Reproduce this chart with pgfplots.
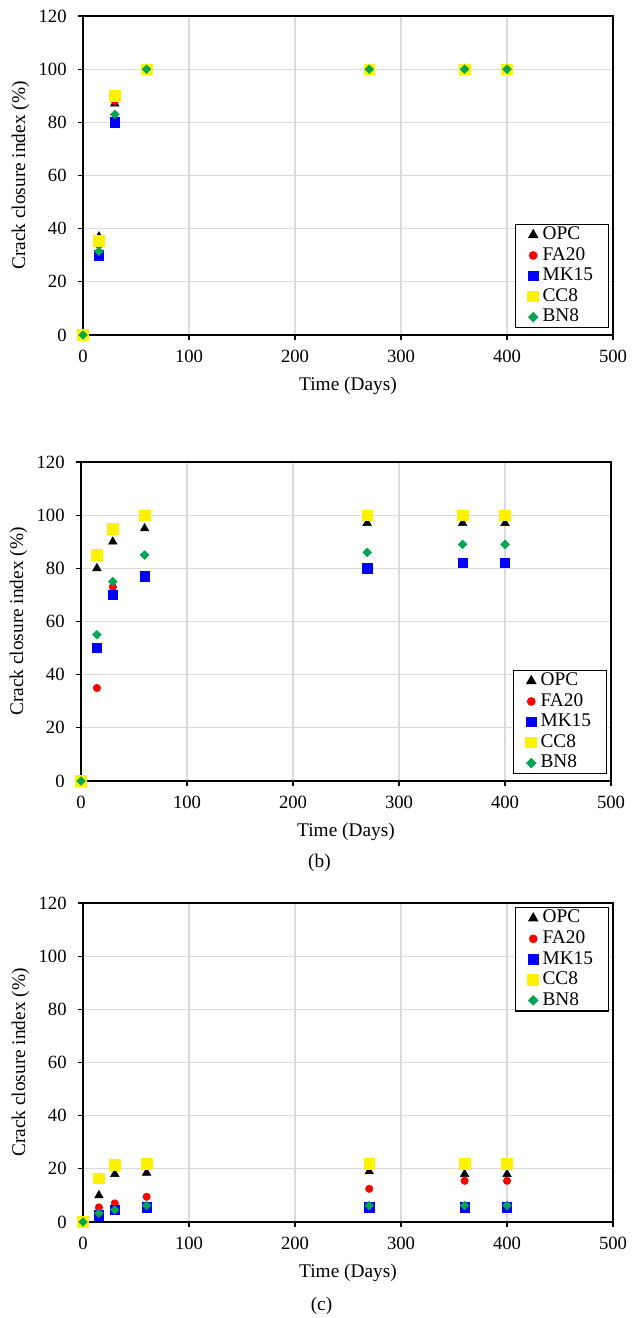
\documentclass[border=0pt]{standalone}
\usepackage{fontspec}
\setmainfont{Liberation Serif}
\usepackage{pgfplots}
\pgfplotsset{compat=1.18}

\definecolor{bngreen}{RGB}{0,166,81}

\pgfplotsset{
  ccaxis/.style={
    scale only axis, width=397.5pt, height=239.25pt,
    xmin=0, xmax=500, ymin=0, ymax=120,
    xtick={0,100,...,500}, ytick={0,20,...,120},
    tick align=outside, xtick pos=bottom, ytick pos=left,
    major tick length=3.75pt,
    grid=major, grid style={draw=gray!28, line width=0.9pt},
    axis line style={line width=0.9pt},
    tick style={line width=0.9pt, black},
    /pgf/number format/assume math mode=true,
    tick label style={font=\fontsize{14}{16}\selectfont},
    xticklabel style={yshift=-4pt},
    yticklabel style={xshift=-5pt},
    label style={font=\fontsize{14.5}{17}\selectfont},
    xlabel={Time (Days)}, ylabel={Crack closure index (\%)},
    x label style={at={(axis description cs:0.5,-0.159)}, anchor=center},
    y label style={at={(axis description cs:-0.118,0.5)}, anchor=center},
    clip=false,
    legend cell align=left,
    legend image code/.code={%
      \path[draw=none, fill=none] (-4.5pt,-4pt) rectangle (4.5pt,4pt);
      \draw[#1] plot coordinates {(0pt,0pt)};},
    legend style={draw=black, line width=0.9pt, fill=white,
      font=\fontsize{14.5}{15}\selectfont, inner xsep=9pt, inner ysep=1pt,
      row sep=1.4pt, column sep=0pt,
      nodes={inner xsep=2.5pt, inner ysep=0pt, text height=10.5pt, text depth=3.5pt}},
  },
  opc/.style={only marks, mark=triangle*, mark size=3.7pt, black},
  fa/.style={only marks, mark=*, mark size=2.8pt, red},
  mk/.style={only marks, mark=square*, mark size=3.5pt, blue},
  cc/.style={only marks, mark=square*, mark size=4pt, yellow},
  bn/.style={only marks, mark=square*, mark size=2.3pt, bngreen, mark options={rotate=45}},
}

\begin{document}
\begin{tikzpicture}
\useasboundingbox (0pt,0pt) rectangle (474pt,-988.5pt);

% (a)
\begin{axis}[ccaxis, at={(62.25pt,-251.25pt)}, anchor=south west,
  legend style={at={(1,0)}, anchor=south east, xshift=-3pt, yshift=5pt}]
\addplot[opc] coordinates {(0,0) (15,37) (30,87) (60,100) (270,100) (360,100) (400,100)};
\addplot[fa] coordinates {(0,0) (15,34) (30,88) (60,100) (270,100) (360,100) (400,100)};
\addplot[mk] coordinates {(0,0) (15,30) (30,80) (60,100) (270,100) (360,100) (400,100)};
\addplot[cc] coordinates {(0,0) (15,35.5) (30,90) (60,100) (270,100) (360,100) (400,100)};
\addplot[bn] coordinates {(0,0) (15,31.5) (30,83) (60,100) (270,100) (360,100) (400,100)};
\legend{OPC, FA20, MK15, CC8, BN8}
\end{axis}

% (b)
\begin{axis}[ccaxis, at={(60.75pt,-585.75pt)}, anchor=south west,
  legend style={at={(1,0)}, anchor=south east, xshift=-3pt, yshift=5pt}]
\addplot[opc] coordinates {(0,0) (15,80) (30,90) (60,95) (270,97) (360,97) (400,97)};
\addplot[fa] coordinates {(0,0) (15,35) (30,73) (60,100) (270,100) (360,100) (400,100)};
\addplot[mk] coordinates {(0,0) (15,50) (30,70) (60,77) (270,80) (360,82) (400,82)};
\addplot[cc] coordinates {(0,0) (15,85) (30,95) (60,100) (270,100) (360,100) (400,100)};
\addplot[bn] coordinates {(0,0) (15,55) (30,75) (60,85) (270,86) (360,89) (400,89)};
\legend{OPC, FA20, MK15, CC8, BN8}
\node[font=\fontsize{14.5}{17}\selectfont] at (rel axis cs:0.45,-0.255) {(b)};
\end{axis}

% (c)
\begin{axis}[ccaxis, at={(62.25pt,-916.5pt)}, anchor=south west,
  legend style={at={(1,1)}, anchor=north east, xshift=-3pt, yshift=-3pt}]
\addplot[opc] coordinates {(0,0) (15,10) (30,18) (60,18.5) (270,19) (360,18) (400,18)};
\addplot[fa] coordinates {(0,0) (15,5.5) (30,7) (60,9.5) (270,12.5) (360,15.5) (400,15.5)};
\addplot[mk] coordinates {(0,0) (15,2.5) (30,4.5) (60,5.5) (270,5.5) (360,5.5) (400,5.5)};
\addplot[cc] coordinates {(0,0) (15,16.5) (30,21.5) (60,22) (270,22) (360,22) (400,22)};
\addplot[bn] coordinates {(0,0) (15,3.3) (30,4.6) (60,6.2) (270,6.2) (360,6.2) (400,6.2)};
\legend{OPC, FA20, MK15, CC8, BN8}
\node[font=\fontsize{14.5}{17}\selectfont] at (rel axis cs:0.45,-0.263) {(c)};
\end{axis}
\end{tikzpicture}
\end{document}
